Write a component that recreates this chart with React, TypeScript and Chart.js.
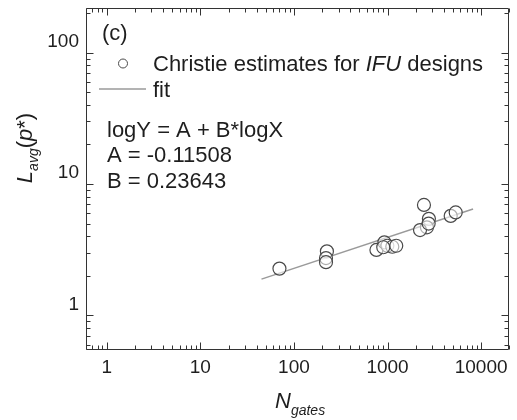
import React, { useEffect, useRef } from 'react';
import { Chart, registerables } from 'chart.js';

Chart.register(...registerables);

// ---- data ----
const xTickValues = [1, 10, 100, 1000, 10000];
const xTickLabels = ['1', '10', '100', '1000', '10000'];
const yTickValues = [1, 10, 100];
const yTickLabels = ['1', '10', '100'];

const gates = [70, 225, 220, 220, 761, 925, 995, 1124, 1239, 900, 2450, 2767, 2636, 2224, 2750, 4731, 5349];
const lavg = [2.27, 3.07, 2.73, 2.54, 3.15, 3.6, 3.39, 3.33, 3.39, 3.3, 6.93, 5.43, 4.68, 4.46, 5.0, 5.72, 6.08];

const fitX = [45, 8200];
const fitY = [1.887, 6.461];

const legendScatter = 'Christie estimates for ';
const legendItalic = 'IFU';
const legendTail = ' designs';
const legendFit = 'fit';
const panelLabel = '(c)';
const eqText = 'logY = A + B*logX';
const aText = 'A = -0.11508';
const bText = 'B = 0.23643';

const FONT = '"Liberation Sans", Arial, Helvetica, sans-serif';
const INK = '#1e1e1e';
const AXIS = '#333333';
const FIT_COLOR = '#9a9a9a';
const MARK_COLOR = '#4a4a4a';

type Run = { text: string; italic?: boolean; size: number; dy?: number };

function drawRuns(ctx: CanvasRenderingContext2D, x: number, y: number, runs: Run[], align: 'left' | 'center' = 'left') {
  let total = 0;
  for (const r of runs) {
    ctx.font = `${r.italic ? 'italic ' : ''}${r.size}px ${FONT}`;
    total += ctx.measureText(r.text).width;
  }
  let cx = align === 'center' ? x - total / 2 : x;
  ctx.textAlign = 'left';
  ctx.textBaseline = 'alphabetic';
  for (const r of runs) {
    ctx.font = `${r.italic ? 'italic ' : ''}${r.size}px ${FONT}`;
    ctx.fillText(r.text, cx, y + (r.dy || 0));
    cx += ctx.measureText(r.text).width;
  }
}

const framePlugin = {
  id: 'frameTicks',
  beforeDatasetsDraw(chart: any) {
    const { ctx, chartArea: a, scales } = chart;
    const xs = scales.x;
    const ys = scales.y;
    ctx.save();
    ctx.strokeStyle = AXIS;
    ctx.lineWidth = 1;
    const L = Math.round(a.left) + 0.5;
    const R = Math.round(a.right) - 0.5;
    const T = Math.round(a.top) + 0.5;
    const B = Math.round(a.bottom) - 0.5;
    ctx.beginPath();
    ctx.rect(L, T, R - L, B - T);
    ctx.stroke();

    const major = 7;
    const minor = 4;
    ctx.beginPath();
    for (let k = -1; k <= 4; k++) {
      for (let m = 1; m <= 9; m++) {
        const v = m * Math.pow(10, k);
        if (v < xs.min || v > xs.max) continue;
        const px = Math.round(xs.getPixelForValue(v)) + 0.5;
        const len = m === 1 ? major : minor;
        ctx.moveTo(px, B); ctx.lineTo(px, B - len);
        ctx.moveTo(px, T); ctx.lineTo(px, T + len);
      }
    }
    for (let k = -1; k <= 2; k++) {
      for (let m = 1; m <= 9; m++) {
        const v = m * Math.pow(10, k);
        if (v < ys.min || v > ys.max) continue;
        const py = Math.round(ys.getPixelForValue(v)) + 0.5;
        const len = m === 1 ? major : minor;
        ctx.moveTo(L, py); ctx.lineTo(L + len, py);
        ctx.moveTo(R, py); ctx.lineTo(R - len, py);
      }
    }
    ctx.stroke();
    ctx.restore();
  },
  afterDraw(chart: any) {
    const { ctx } = chart;
    ctx.save();
    ctx.fillStyle = INK;
    drawRuns(ctx, 102, 40, [{ text: panelLabel, size: 22 }]);
    ctx.strokeStyle = MARK_COLOR;
    ctx.lineWidth = 1;
    ctx.beginPath();
    ctx.arc(123, 63.5, 4.5, 0, Math.PI * 2);
    ctx.stroke();
    drawRuns(ctx, 153, 71, [
      { text: legendScatter, size: 22 },
      { text: legendItalic, size: 22, italic: true },
      { text: legendTail, size: 22 },
    ]);
    ctx.strokeStyle = FIT_COLOR;
    ctx.lineWidth = 1.5;
    ctx.beginPath();
    ctx.moveTo(99, 89);
    ctx.lineTo(146, 89);
    ctx.stroke();
    drawRuns(ctx, 153, 97, [{ text: legendFit, size: 22 }]);
    drawRuns(ctx, 107, 137, [{ text: eqText, size: 22 }]);
    drawRuns(ctx, 107, 162, [{ text: aText, size: 22 }]);
    drawRuns(ctx, 107, 188, [{ text: bText, size: 22 }]);
    drawRuns(ctx, 275, 408, [
      { text: 'N', size: 22, italic: true },
      { text: 'gates', size: 14, italic: true, dy: 7 },
    ]);
    ctx.translate(32, 148);
    ctx.rotate(-Math.PI / 2);
    drawRuns(ctx, 0, 0, [
      { text: 'L', size: 22, italic: true },
      { text: 'avg', size: 14, italic: true, dy: 6 },
      { text: '(', size: 22 },
      { text: 'p', size: 22, italic: true },
      { text: '*)', size: 22 },
    ], 'center');
    ctx.restore();
  },
};

export default function App() {
  const ref = useRef<HTMLCanvasElement | null>(null);
  useEffect(() => {
    if (!ref.current) return;
    const chart = new Chart(ref.current, {
      type: 'scatter',
      data: {
        datasets: [
          {
            label: 'Christie estimates for IFU designs',
            data: gates.map((g, i) => ({ x: g, y: lavg[i] })),
            pointStyle: 'circle',
            pointRadius: 6.5,
            pointBorderWidth: 1.2,
            borderColor: MARK_COLOR,
            backgroundColor: 'rgba(255,255,255,0.55)',
            showLine: false,
            order: 0,
          },
          {
            label: 'fit',
            data: fitX.map((x, i) => ({ x, y: fitY[i] })),
            showLine: true,
            borderColor: FIT_COLOR,
            borderWidth: 1.5,
            pointRadius: 0,
            order: 1,
          },
        ],
      },
      options: {
        animation: false,
        responsive: true,
        maintainAspectRatio: false,
        layout: { padding: { left: 0, right: 5, top: 6, bottom: 0 } },
        plugins: { legend: { display: false }, tooltip: { enabled: false } },
        scales: {
          x: {
            type: 'logarithmic',
            min: 0.6,
            max: 20000,
            grid: { display: false, drawTicks: false },
            border: { display: false },
            afterBuildTicks: (s: any) => { s.ticks = xTickValues.map((v) => ({ value: v })); },
            afterFit: (s: any) => { s.height = 70; s.paddingLeft = 0; s.paddingRight = 0; },
            ticks: {
              autoSkip: false,
              maxRotation: 0,
              padding: 6,
              color: INK,
              font: { family: FONT, size: 19 },
              callback: (v: any) => { const i = xTickValues.indexOf(Number(v)); return i >= 0 ? xTickLabels[i] : ''; },
            },
          },
          y: {
            type: 'logarithmic',
            min: 0.545,
            max: 220,
            grid: { display: false, drawTicks: false },
            border: { display: false },
            afterBuildTicks: (s: any) => { s.ticks = yTickValues.map((v) => ({ value: v })); },
            afterFit: (s: any) => { s.width = 86; s.paddingTop = 0; s.paddingBottom = 0; },
            ticks: {
              autoSkip: false,
              padding: 7,
              labelOffset: -11,
              color: INK,
              font: { family: FONT, size: 19 },
              callback: (v: any) => { const i = yTickValues.indexOf(Number(v)); return i >= 0 ? yTickLabels[i] : ''; },
            },
          },
        },
      },
      plugins: [framePlugin],
    });
    return () => chart.destroy();
  }, []);
  return (
    <div style={{ position: 'absolute', left: 0, top: 0, width: 517, height: 420, background: '#fff' }}>
      <canvas ref={ref} />
    </div>
  );
}
